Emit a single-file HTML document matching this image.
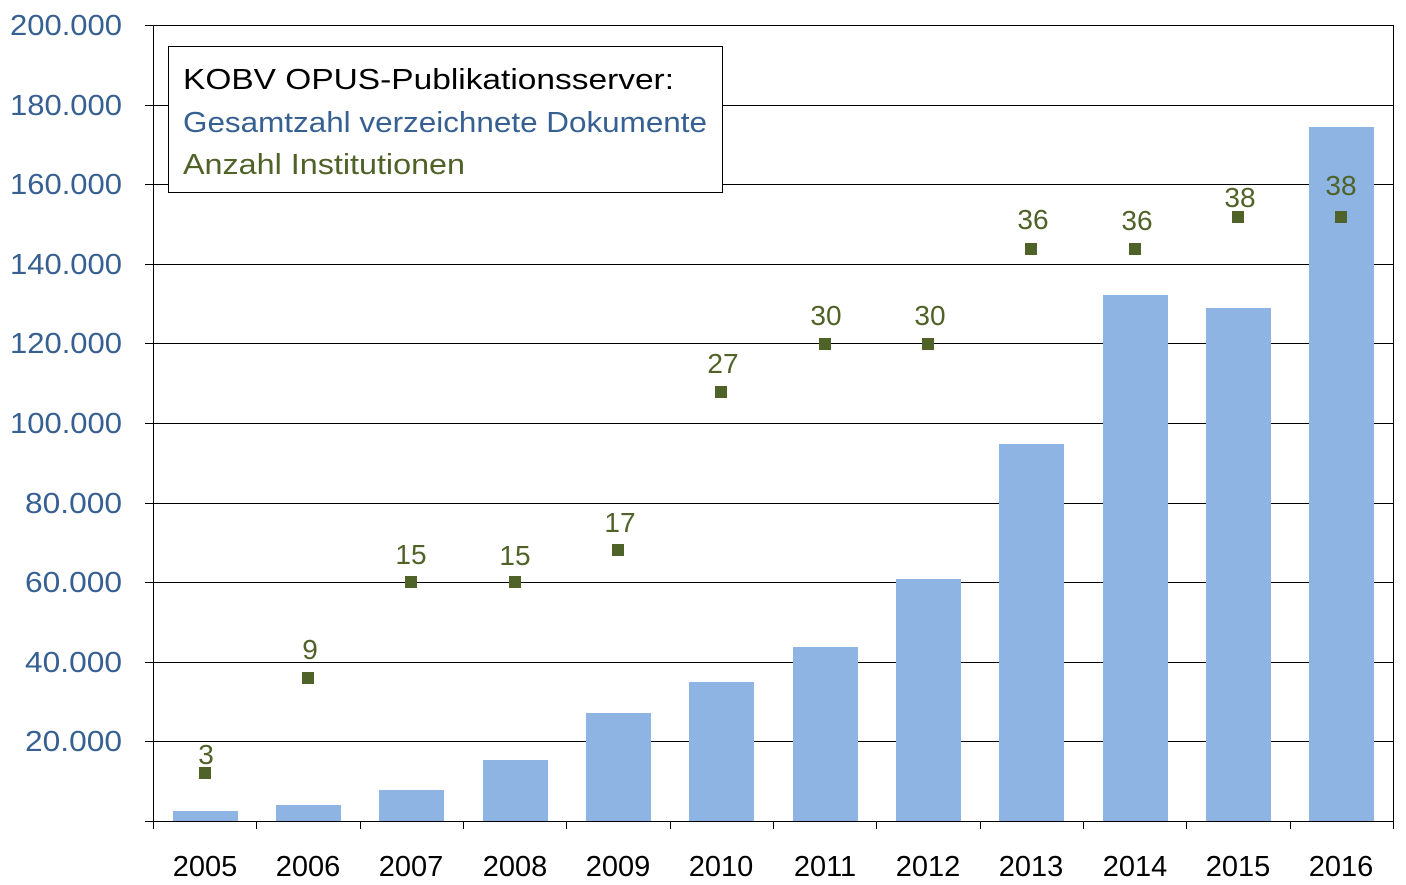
<!DOCTYPE html>
<html><head><meta charset="utf-8"><style>
html,body{margin:0;padding:0;background:#fff;}
svg{display:block;font-family:"Liberation Sans",sans-serif;}
</style></head><body>
<svg width="1406" height="885" viewBox="0 0 1406 885" xmlns="http://www.w3.org/2000/svg">
<rect width="1406" height="885" fill="#fff"/>
<g stroke="#000" stroke-width="1">
<line x1="153" y1="25.5" x2="1393" y2="25.5"/>
<line x1="153" y1="105.5" x2="1393" y2="105.5"/>
<line x1="153" y1="184.5" x2="1393" y2="184.5"/>
<line x1="153" y1="264.5" x2="1393" y2="264.5"/>
<line x1="153" y1="343.5" x2="1393" y2="343.5"/>
<line x1="153" y1="423.5" x2="1393" y2="423.5"/>
<line x1="153" y1="503.5" x2="1393" y2="503.5"/>
<line x1="153" y1="582.5" x2="1393" y2="582.5"/>
<line x1="153" y1="662.5" x2="1393" y2="662.5"/>
<line x1="153" y1="741.5" x2="1393" y2="741.5"/>
<line x1="1393.5" y1="25" x2="1393.5" y2="821"/>
</g>
<g fill="#8eb4e3">
<rect x="173" y="811" width="65" height="10"/>
<rect x="276" y="805" width="65" height="16"/>
<rect x="379" y="790" width="65" height="31"/>
<rect x="483" y="760" width="65" height="61"/>
<rect x="586" y="713" width="65" height="108"/>
<rect x="689" y="682" width="65" height="139"/>
<rect x="793" y="647" width="65" height="174"/>
<rect x="896" y="579" width="65" height="242"/>
<rect x="999" y="444" width="65" height="377"/>
<rect x="1103" y="295" width="65" height="526"/>
<rect x="1206" y="308" width="65" height="513"/>
<rect x="1309" y="127" width="65" height="694"/>
</g>
<g stroke="#000" stroke-width="1">
<line x1="153.5" y1="25" x2="153.5" y2="829"/>
<line x1="153" y1="821.5" x2="1393" y2="821.5"/>
<line x1="145" y1="25.5" x2="153" y2="25.5"/><line x1="145" y1="105.5" x2="153" y2="105.5"/>
<line x1="145" y1="184.5" x2="153" y2="184.5"/><line x1="145" y1="264.5" x2="153" y2="264.5"/>
<line x1="145" y1="343.5" x2="153" y2="343.5"/><line x1="145" y1="423.5" x2="153" y2="423.5"/>
<line x1="145" y1="503.5" x2="153" y2="503.5"/><line x1="145" y1="582.5" x2="153" y2="582.5"/>
<line x1="145" y1="662.5" x2="153" y2="662.5"/><line x1="145" y1="741.5" x2="153" y2="741.5"/>
<line x1="145" y1="821.5" x2="153" y2="821.5"/>
<line x1="256.5" y1="821" x2="256.5" y2="829"/><line x1="360.5" y1="821" x2="360.5" y2="829"/>
<line x1="463.5" y1="821" x2="463.5" y2="829"/><line x1="566.5" y1="821" x2="566.5" y2="829"/>
<line x1="670.5" y1="821" x2="670.5" y2="829"/><line x1="773.5" y1="821" x2="773.5" y2="829"/>
<line x1="876.5" y1="821" x2="876.5" y2="829"/><line x1="980.5" y1="821" x2="980.5" y2="829"/>
<line x1="1083.5" y1="821" x2="1083.5" y2="829"/><line x1="1186.5" y1="821" x2="1186.5" y2="829"/>
<line x1="1290.5" y1="821" x2="1290.5" y2="829"/><line x1="1393.5" y1="821" x2="1393.5" y2="829"/>
</g>
<g fill="#4f6228">
<rect x="199" y="767" width="12" height="12"/>
<rect x="302" y="672" width="12" height="12"/>
<rect x="405" y="576" width="12" height="12"/>
<rect x="509" y="576" width="12" height="12"/>
<rect x="612" y="544" width="12" height="12"/>
<rect x="715" y="386" width="12" height="12"/>
<rect x="819" y="338" width="12" height="12"/>
<rect x="922" y="338" width="12" height="12"/>
<rect x="1025" y="243" width="12" height="12"/>
<rect x="1129" y="243" width="12" height="12"/>
<rect x="1232" y="211" width="12" height="12"/>
<rect x="1335" y="211" width="12" height="12"/>
</g>
<g fill="#4f6228" font-size="28" text-anchor="middle">
<text x="206" y="764">3</text>
<text x="310" y="659">9</text>
<text x="411" y="564">15</text>
<text x="515" y="565">15</text>
<text x="620" y="532">17</text>
<text x="723" y="373">27</text>
<text x="826" y="325">30</text>
<text x="930" y="325">30</text>
<text x="1033" y="229">36</text>
<text x="1137" y="230">36</text>
<text x="1240" y="207">38</text>
<text x="1341" y="195">38</text>
</g>
<g fill="#376092" font-size="29" text-anchor="end">
<text x="122" y="35" textLength="112" lengthAdjust="spacingAndGlyphs">200.000</text>
<text x="122" y="115" textLength="112" lengthAdjust="spacingAndGlyphs">180.000</text>
<text x="122" y="194" textLength="112" lengthAdjust="spacingAndGlyphs">160.000</text>
<text x="122" y="274" textLength="112" lengthAdjust="spacingAndGlyphs">140.000</text>
<text x="122" y="353" textLength="112" lengthAdjust="spacingAndGlyphs">120.000</text>
<text x="122" y="433" textLength="112" lengthAdjust="spacingAndGlyphs">100.000</text>
<text x="122" y="513" textLength="97" lengthAdjust="spacingAndGlyphs">80.000</text>
<text x="122" y="592" textLength="97" lengthAdjust="spacingAndGlyphs">60.000</text>
<text x="122" y="672" textLength="97" lengthAdjust="spacingAndGlyphs">40.000</text>
<text x="122" y="751" textLength="97" lengthAdjust="spacingAndGlyphs">20.000</text>
</g>
<g fill="#000" font-size="29" text-anchor="middle">
<text x="205" y="876">2005</text><text x="308" y="876">2006</text><text x="411" y="876">2007</text>
<text x="515" y="876">2008</text><text x="618" y="876">2009</text><text x="721" y="876">2010</text>
<text x="825" y="876">2011</text><text x="928" y="876">2012</text><text x="1031" y="876">2013</text>
<text x="1135" y="876">2014</text><text x="1238" y="876">2015</text><text x="1341" y="876">2016</text>
</g>
<rect x="168.5" y="46.5" width="554" height="146" fill="#fff" stroke="#000" stroke-width="1"/>
<text x="183" y="89" font-size="29" fill="#000" textLength="491" lengthAdjust="spacingAndGlyphs">KOBV OPUS-Publikationsserver:</text>
<text x="183" y="132" font-size="29" fill="#376092" textLength="524" lengthAdjust="spacingAndGlyphs">Gesamtzahl verzeichnete Dokumente</text>
<text x="183" y="174" font-size="29" fill="#4f6228" textLength="282" lengthAdjust="spacingAndGlyphs">Anzahl Institutionen</text>
</svg>
</body></html>
